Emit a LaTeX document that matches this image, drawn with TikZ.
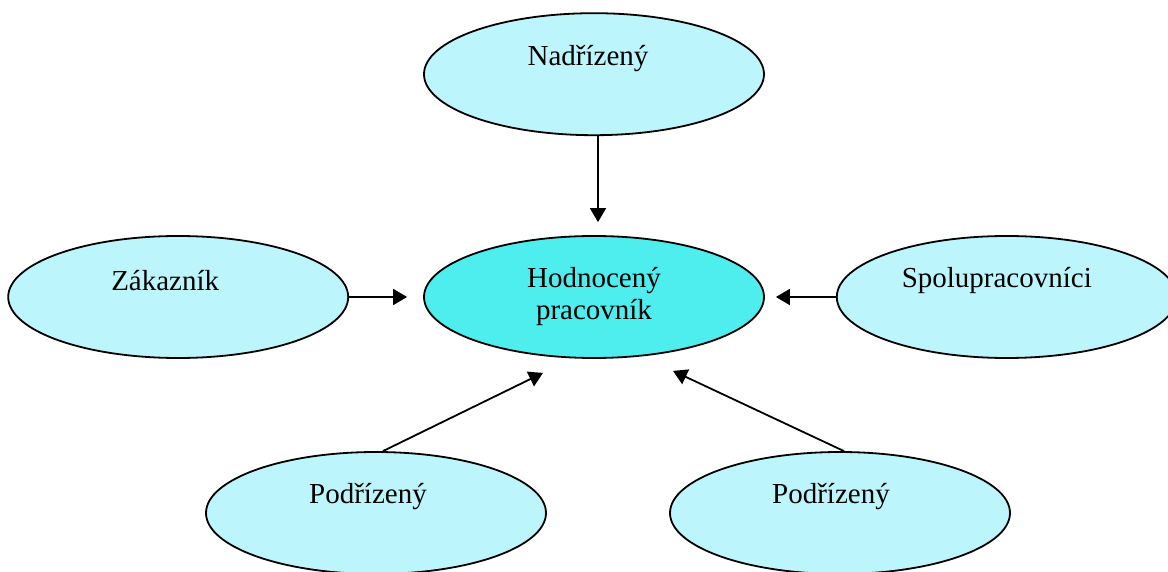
\documentclass[tikz,border=0pt]{standalone}
\usepackage{fontspec}
\setmainfont{Liberation Serif}
\usetikzlibrary{shapes.geometric,arrows.meta,positioning}

\definecolor{paleCyan}{RGB}{188,246,252}
\definecolor{brightCyan}{RGB}{78,238,238}

\begin{document}
\begin{tikzpicture}[x=0.5pt,y=-0.5pt,>={Triangle[length=7pt,width=8pt]},line width=0.9pt]
\tikzstyle{every node}=[font=\fontsize{14.5}{16}\selectfont]
\tikzstyle{role}=[ellipse,draw=black,line width=0.9pt,fill=paleCyan,minimum width=170pt,minimum height=61pt,inner sep=0pt]
\useasboundingbox (0,0) rectangle (1168,572);
\node[role,fill=brightCyan,align=center] (worker) at (594,297) {Hodnocený\\pracovník};
\node[role,label={[xshift=-3pt,yshift=8pt]center:Nadřízený}] (boss) [above=49.5pt of worker] {};
\node[role,label={[xshift=-6.5pt,yshift=8pt]center:Zákazník}] (client) [left=37pt of worker] {};
\node[role,label={[xshift=-5pt,yshift=8pt]center:Spolupracovníci}] (peers) [right=35.5pt of worker] {};
\node[role,label={[xshift=-4pt,yshift=8pt]center:Podřízený}] (sub1) at (376,513) {};
\node[role,label={[xshift=-4.5pt,yshift=8pt]center:Podřízený}] (sub2) at (840,513) {};
\path[->,line width=0.9pt]
([xshift=2pt]boss.south) edge ([xshift=2pt,yshift=6.5pt]worker.north)
(client) edge[shorten >=8pt] (worker)
(peers) edge[shorten >=5.5pt] (worker)
([xshift=3.5pt]sub1.north) edge ([xshift=-25.5pt,yshift=-7pt]worker.south)
([xshift=2pt]sub2.north) edge ([xshift=39.5pt,yshift=-6pt]worker.south);
\end{tikzpicture}
\end{document}
